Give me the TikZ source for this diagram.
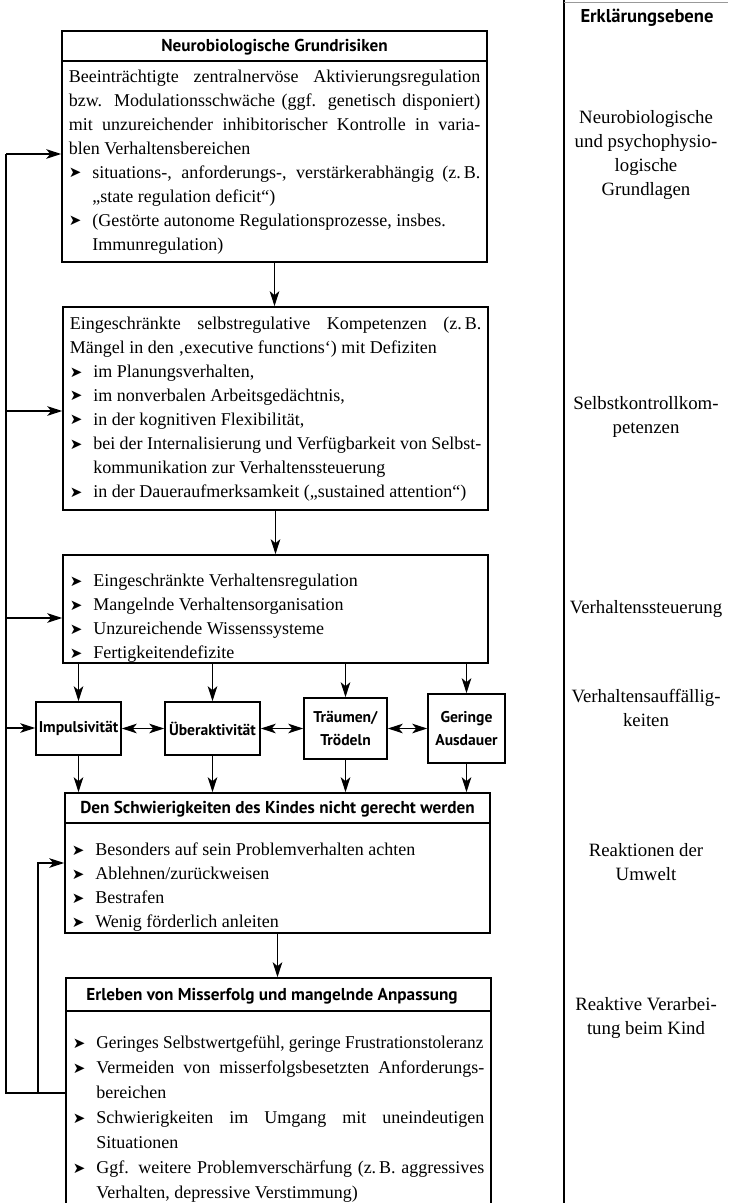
\documentclass[tikz,border=0pt]{standalone}
\usepackage{fontspec}
\usepackage{graphicx}
\setmainfont{Liberation Serif}
\newfontfamily\hdfont{PT Sans}
\newfontfamily\symfont{DejaVu Sans}
\usetikzlibrary{arrows.meta,fit}
\newcommand\bul{\makebox[11.75pt][l]{\raisebox{0.2pt}{\symfont\fontsize{7.5}{7.5}\selectfont ➤}}}
\newcommand\itm{\par\hangindent=11.75pt\hangafter=1\noindent\strut\bul}
\newcommand\firstline{\noindent\strut}
\tikzset{
  box/.style={draw, line width=0.8pt, inner sep=0pt},
  sepline/.style={line width=0.8pt},
  bodytext/.style={inner sep=0pt, anchor=north west, text width=205.75pt, align=justify,
    font=\fontsize{9}{12}\selectfont,
    execute at begin node={\hyphenpenalty=10000\exhyphenpenalty=10000\tolerance=10000}},
  titletext/.style={inner sep=0pt, anchor=base, font=\hdfont\bfseries\fontsize{8.6}{10}\selectfont},
  headtext/.style={inner sep=0pt, anchor=base, font=\hdfont\bfseries\fontsize{9.3}{11}\selectfont},
  smalltext/.style={inner sep=0pt, align=center, font=\hdfont\bfseries\fontsize{7.8}{11.5}\selectfont},
  sidetext/.style={inner sep=0pt, anchor=north, align=center, font=\fontsize{9.4}{12}\selectfont},
  arr/.style={line width=0.6pt, -{Stealth[length=7.5pt,width=4.8pt,inset=2pt]}},
  darr/.style={line width=0.6pt, {Stealth[length=7.5pt,width=4.8pt,inset=2pt]}-{Stealth[length=7.5pt,width=4.8pt,inset=2pt]}},
  fbline/.style={line width=0.6pt},
  colline/.style={line width=0.6pt}
}
\begin{document}
\begin{tikzpicture}[x=0.5pt,y=-0.5pt]
\useasboundingbox (0,0) rectangle (728,1203);

% right column
\coordinate (colT) at (564,0);
\coordinate (colB) at (564,1203);
\coordinate (colR) at (728,2);
\draw[colline] (colT) -- (colB);
\draw[line width=0.3pt, black!40] (colT |- colR) -- (colR);
\node[headtext] (hErk) at (647,23) {Erklärungsebene};
\node[sidetext] (s1) at (646,106.2) {\strut Neurobiologische\\und psychophysio-\\logische\\Grundlagen};
\node[sidetext] (s2) at (646,392.2) {\strut Selbstkontrollkom-\\petenzen};
\node[sidetext] (s3) at (646,596.2) {\strut Verhaltenssteuerung};
\node[sidetext] (s4) at (646,685.2) {\strut Verhaltensauffällig-\\keiten};
\node[sidetext] (s5) at (646,839.2) {\strut Reaktionen der\\Umwelt};
\node[sidetext] (s6) at (646,993.2) {\strut Reaktive Verarbei-\\tung beim Kind};

% box 1
\node[box, fit={(62,31)(487,262)}] (b1) {};
\draw[sepline] (b1.west |- 0,61) -- (b1.east |- 0,61);
\node[titletext] (b1t) at (274.5,52) {Neurobiologische Grundrisiken};
\node[bodytext] (b1b) at (68.5,65.2) {\firstline Beeinträchtigte zentralnervöse Aktivierungsregulation\linebreak
bzw. Modulationsschwäche (ggf. genetisch disponiert)\linebreak
mit unzureichender inhibitorischer Kontrolle in varia-\linebreak
blen Verhaltensbereichen
\itm situations-, anforderungs-, verstärkerabhängig (z.\,B.\linebreak
„state regulation deficit“)
\itm (Gestörte autonome Regulationsprozesse, insbes.\newline
Immunregulation)\par};

% box 2
\node[box, fit={(63,307)(488,510)}] (b2) {};
\node[bodytext] (b2b) at (69.5,312.2) {\firstline Eingeschränkte selbstregulative Kompetenzen (z.\,B.\linebreak
Mängel in den ‚executive functions‘) mit Defiziten
\itm im Planungsverhalten,
\itm im nonverbalen Arbeitsgedächtnis,
\itm in der kognitiven Flexibilität,
\itm bei der Internalisierung und Verfügbarkeit von Selbst-\linebreak
kommunikation zur Verhaltenssteuerung
\itm in der Daueraufmerksamkeit („sustained attention“)\par};

% box 3
\node[box, fit={(63,555)(488,663)}] (b3) {};
\node[bodytext] (b3b) at (69.5,562.2) {\itm Eingeschränkte Verhaltensregulation
\itm Mangelnde Verhaltensorganisation
\itm Unzureichende Wissenssysteme
\itm Fertigkeitendefizite\par};

% small boxes
\node[box, fit={(36,702)(121,755)}] (k1) {};
\node[smalltext] (k1t) at (k1.center) {Impulsivität};
\node[box, fit={(165,702)(260,755)}] (k2) {};
\node[smalltext] (k2t) at (k2.center) {Überaktivität};
\node[box, fit={(304,698)(387,759)}] (k3) {};
\node[smalltext] (k3t) at (k3.center) {Träumen/\\Trödeln};
\node[box, fit={(428,694)(505,763)}] (k4) {};
\node[smalltext] (k4t) at (k4.center) {Geringe\\Ausdauer};

% box 4
\node[box, fit={(65,793)(490,933)}] (b4) {};
\draw[sepline] (b4.west |- 0,823) -- (b4.east |- 0,823);
\node[titletext] (b4t) at (277.5,813) {Den Schwierigkeiten des Kindes nicht gerecht werden};
\node[bodytext] (b4b) at (71.5,831.2) {\itm Besonders auf sein Problemverhalten achten
\itm Ablehnen/zurückweisen
\itm Bestrafen
\itm Wenig förderlich anleiten\par};

% box 5
\node[box, fit={(66,978)(491,1215)}] (b5) {};
\draw[sepline] (b5.west |- 0,1011) -- (b5.east |- 0,1011);
\node[titletext] (b5t) at (272,1000) {Erleben von Misserfolg und mangelnde Anpassung};
\node[bodytext, font=\fontsize{9}{12.5}\selectfont] (b5b) at (72.5,1023.2) {\itm \resizebox{193.5pt}{\height}{Geringes Selbstwertgefühl, geringe Frustrationstoleranz}
\itm Vermeiden von misserfolgsbesetzten Anforderungs-\linebreak
bereichen
\itm Schwierigkeiten im Umgang mit uneindeutigen\linebreak
Situationen
\itm Ggf. weitere Problemverschärfung (z.\,B. aggressives\linebreak
Verhalten, depressive Verstimmung)\par};

% main flow
\draw[arr] (b1.south) -- (b1.south |- b2.north);
\draw[arr] (b2.south) -- (b2.south |- b3.north);
\foreach \k in {k1,k2,k3,k4}{
  \draw[arr] (\k.north |- b3.south) -- (\k.north);
  \draw[arr] (\k.south) -- (\k.south |- b4.north);
}
\draw[darr] (k1.east) -- (k2.west);
\draw[darr] (k2.east) -- (k3.west);
\draw[darr] (k3.east) -- (k4.west);
\draw[arr] (b4.south) -- (b4.south |- b5.north);

% feedback loops
\coordinate (oB) at (6,1093);
\coordinate (oT) at (6,154);
\coordinate (o2) at (6,411);
\coordinate (o3) at (6,618);
\coordinate (o4) at (6,728);
\coordinate (iB) at (38,1093);
\coordinate (iT) at (38,863);
\draw[fbline] (b5.west |- oB) -- (oB) -- (oT);
\draw[arr] (oT) -- (b1.west |- oT);
\draw[arr] (o2) -- (b2.west |- o2);
\draw[arr] (o3) -- (b3.west |- o3);
\draw[arr] (o4) -- (k1.west |- o4);
\draw[arr] (iB) -- (iT) -- (b4.west |- iT);
\end{tikzpicture}
\end{document}
